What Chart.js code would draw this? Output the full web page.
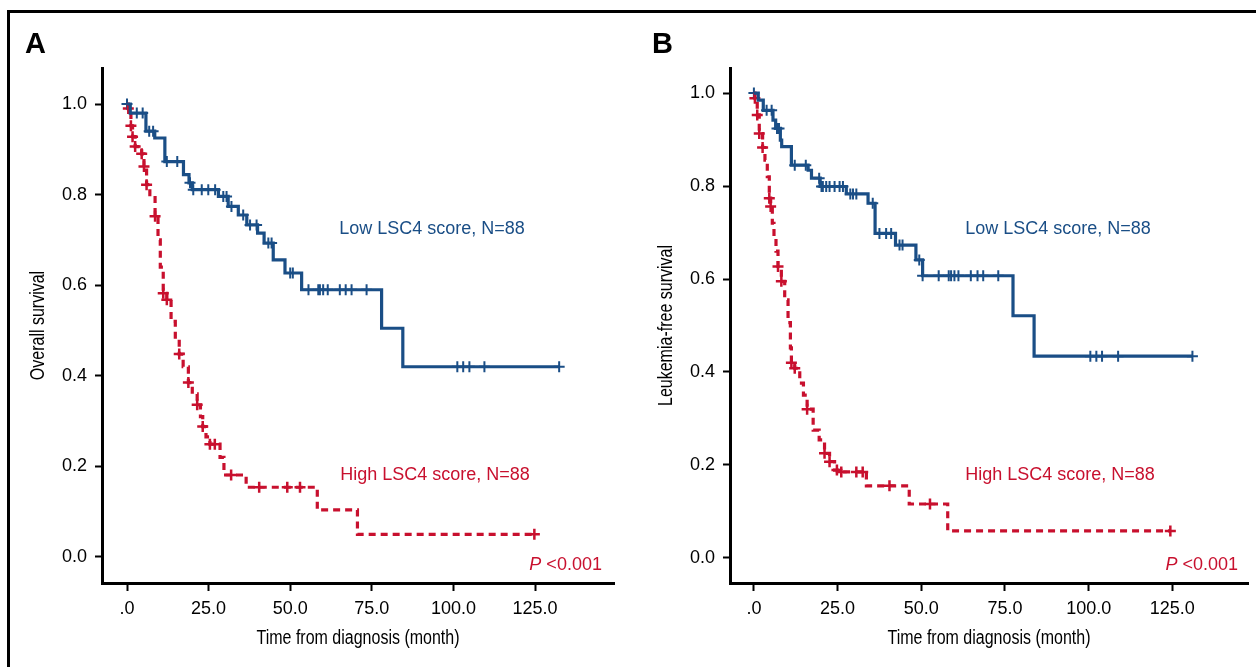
<!DOCTYPE html>
<html>
<head>
<meta charset="utf-8">
<script src="https://cdn.jsdelivr.net/npm/chart.js@4/dist/chart.umd.min.js"></script>
<style>
  body { margin: 0; background: #fff; width: 1256px; height: 667px; overflow: hidden; position: relative; }
  canvas { position: absolute; top: 0; }
  #chartA { left: 0; }
  #chartB { left: 628px; }
  #frame { position: absolute; left: 7px; top: 10px; width: 1300px; height: 700px;
           border-top: 3px solid #000; border-left: 3px solid #000; pointer-events: none; }
</style>
</head>
<body>
<canvas id="chartA" width="628" height="667"></canvas>
<canvas id="chartB" width="628" height="667"></canvas>
<div id="frame"></div>
<script>
// tick labels
const xTicks = [0, 25, 50, 75, 100, 125];
const yTicks = [0, 0.2, 0.4, 0.6, 0.8, 1.0];

// A: overall survival, low LSC4 score (event times in months, survival after event)
const osLowTimes = [0, 1, 5.8, 8.5, 11.6, 17.3, 19, 20, 28, 31, 34.1, 36.7, 40, 42, 44.8, 48.4, 53.5, 78, 84.5];
const osLowSurv = [1.0, 0.98, 0.94, 0.925, 0.873, 0.844, 0.826, 0.811, 0.796, 0.774, 0.755, 0.733, 0.715, 0.693, 0.656, 0.627, 0.59, 0.505, 0.42];
const osLowCensor = [0, 3, 4.8, 6.8, 8, 12.2, 15.4, 19.3, 20.3, 22.9, 24.9, 27, 29.5, 30.5, 32, 35.6, 37.7, 39.7,
  43.3, 44.3, 50, 50.8, 55.6, 58.6, 59.1, 60.1, 61.5, 65.2, 67, 68.8, 73.4, 101.2, 103, 104.9, 109.5, 132.4];

// A: overall survival, high LSC4 score
const osHighTimes = [0, 0.4, 1.2, 1.7, 2.5, 4.5, 5.2, 6, 7, 8.6, 9.5, 10.2, 11.1, 12.2, 13.5, 14.8, 16, 17.2,
  18.8, 20, 21.5, 22.5, 23.2, 24.2, 25.4, 28.5, 29.7, 36.5, 58.3, 70.6];
const osHighSurv = [1.0, 0.99, 0.952, 0.928, 0.906, 0.89, 0.862, 0.822, 0.8, 0.752, 0.7, 0.64, 0.582, 0.568, 0.52, 0.48, 0.448, 0.42,
  0.385, 0.36, 0.336, 0.31, 0.288, 0.265, 0.249, 0.22, 0.181, 0.154, 0.104, 0.05];
const osHighCensor = [0.4, 1.2, 1.7, 2.5, 4.5, 5.2, 6, 8.6, 11.1, 12.2, 16, 18.8, 21.5, 23.2, 25.4, 26.9, 31.9, 40.5, 49.1, 53, 124.8];

// B: leukemia-free survival, low LSC4 score
const lfsLowTimes = [0, 1.3, 2.8, 5.7, 6.5, 7.9, 8.3, 11.2, 16.2, 17.2, 19.8, 27.6, 34.1, 36.2, 42.3, 48.4, 50.4, 77.4, 83.7];
const lfsLowSurv = [1.0, 0.985, 0.963, 0.942, 0.924, 0.899, 0.885, 0.845, 0.834, 0.817, 0.799, 0.783, 0.763, 0.698, 0.673, 0.641, 0.607, 0.521, 0.434];
const lfsLowCensor = [0, 3.8, 5.3, 6.9, 7.5, 12.2, 15.5, 19.5, 20.2, 20.6, 21.6, 22.6, 24.1, 25.6, 26.6, 28.8, 29.6, 30.6,
  35.5, 37.5, 39.5, 41, 43.5, 44.4, 49.4, 50.4, 55.2, 58.2, 58.9, 59.9, 61.1, 64.8, 66.8, 68.5, 73, 100.5, 102.3, 104, 108.8, 131];

// B: leukemia-free survival, high LSC4 score
const lfsHighTimes = [0, 0.3, 1, 1.6, 2.6, 3.3, 4, 4.6, 5, 5.5, 6, 6.6, 7.2, 8.2, 9.2, 10.2, 10.9, 11.2, 12.2, 13.7,
  14.8, 15.9, 17.7, 19.5, 21.1, 22.6, 24.1, 25, 33.6, 46.4, 57.9];
const lfsHighSurv = [1.0, 0.989, 0.953, 0.913, 0.883, 0.856, 0.82, 0.774, 0.756, 0.72, 0.691, 0.66, 0.627, 0.595, 0.555, 0.506, 0.452, 0.42, 0.408, 0.376,
  0.35, 0.32, 0.275, 0.254, 0.225, 0.207, 0.189, 0.185, 0.155, 0.116, 0.058];
const lfsHighCensor = [0.3, 1, 1.6, 2.6, 4.6, 5, 7.2, 8.2, 11.2, 12.2, 15.9, 21.1, 22.6, 24.8, 26.1, 30.6, 32.5, 40.5, 52.6, 124.4];

const BLUE = '#1a4e86';
const RED = '#c8102e';
const FONT = "'Liberation Sans', Arial, sans-serif";

// value of the step curve at time t
const survAt = (times, surv, t) => {
  let v = surv[0];
  for (let i = 0; i < times.length; i++) if (times[i] <= t) v = surv[i];
  return v;
};

const curve = (times, surv, censor) => {
  const pts = times.map((t, i) => ({ x: t, y: surv[i] }));
  pts.push({ x: Math.max(...censor), y: surv[surv.length - 1] });
  return pts;
};

const marks = (times, surv, censor) => censor.map(t => ({ x: t, y: survAt(times, surv, t) }));

// condensed text: squeeze horizontally
const narrowText = (ctx, text, x, y, rot) => {
  ctx.save();
  ctx.translate(x, y);
  ctx.rotate(rot);
  ctx.scale(0.8, 1);
  ctx.fillText(text, 0, 0);
  ctx.restore();
};

const textPlugin = {
  id: 'texts',
  afterDraw(chart, args, opts) {
    const { ctx, chartArea, scales: { x, y } } = chart;
    ctx.save();
    ctx.fillStyle = '#000';
    ctx.font = 'bold 29px ' + FONT;
    ctx.textBaseline = 'alphabetic';
    ctx.fillText(opts.label, opts.labelX, 53);

    // axis titles
    ctx.textAlign = 'center';
    ctx.textBaseline = 'middle';
    ctx.font = '20px ' + FONT;
    narrowText(ctx, 'Time from diagnosis (month)', (chartArea.left + chartArea.right) / 2, 638, 0);
    narrowText(ctx, opts.yTitle, 38, (chartArea.top + chartArea.bottom) / 2, -Math.PI / 2);

    ctx.font = '18px ' + FONT;
    opts.notes.forEach(n => {
      ctx.fillStyle = n.color;
      ctx.textAlign = 'left';
      ctx.fillText(n.text, x.getPixelForValue(n.x), y.getPixelForValue(n.y));
    });
    // P value, italic P
    const px = x.getPixelForValue(opts.p.x), py = y.getPixelForValue(opts.p.y);
    ctx.fillStyle = RED;
    ctx.textAlign = 'right';
    const rest = ' <0.001';
    ctx.fillText(rest, px, py);
    const w = ctx.measureText(rest).width;
    ctx.font = 'italic 18px ' + FONT;
    ctx.fillText('P', px - w, py);
    ctx.restore();
  }
};

const makePanel = (id, cfg) => {
  const ctx = document.getElementById(id).getContext('2d');
  return new Chart(ctx, {
    type: 'line',
    data: {
      datasets: [
        { data: curve(cfg.low[0], cfg.low[1], cfg.low[2]), borderColor: BLUE, borderWidth: 3.2,
          stepped: 'before', pointRadius: 0, fill: false },
        { data: curve(cfg.high[0], cfg.high[1], cfg.high[2]), borderColor: RED, borderWidth: 3.2,
          borderDash: [7, 5], stepped: 'before', pointRadius: 0, fill: false },
        { data: marks(cfg.low[0], cfg.low[1], cfg.low[2]), showLine: false, pointStyle: 'cross',
          pointRadius: 5.5, pointBorderWidth: 2, borderColor: BLUE, backgroundColor: BLUE },
        { data: marks(cfg.high[0], cfg.high[1], cfg.high[2]), showLine: false, pointStyle: 'cross',
          pointRadius: 5.5, pointBorderWidth: 2.5, borderColor: RED, backgroundColor: RED }
      ]
    },
    options: {
      responsive: false,
      animation: false,
      devicePixelRatio: 1,
      layout: { padding: { left: 22, top: 68, right: cfg.right, bottom: 14 } },
      plugins: {
        legend: { display: false },
        tooltip: { enabled: false },
        texts: { label: cfg.label, labelX: cfg.labelX, notes: cfg.notes, p: cfg.p, yTitle: cfg.yTitle }
      },
      scales: {
        x: {
          type: 'linear', min: cfg.xMin, max: cfg.xMax,
          afterBuildTicks: s => { s.ticks = xTicks.map(v => ({ value: v })); },
          afterFit: s => { s.height = 70; },
          border: { color: '#000', width: 3 },
          grid: { drawOnChartArea: false, tickLength: 8, tickColor: '#000', tickWidth: 2 },
          ticks: { color: '#000', font: { family: FONT, size: 18 }, padding: 7, maxRotation: 0,
                   callback: v => v === 0 ? '.0' : v.toFixed(1) }
        },
        y: {
          type: 'linear', min: cfg.yMin, max: cfg.yMax,
          afterBuildTicks: s => { s.ticks = yTicks.map(v => ({ value: v })); },
          afterFit: s => { s.width = 80; },
          border: { color: '#000', width: 3 },
          grid: { drawOnChartArea: false, tickLength: 7, tickColor: '#000', tickWidth: 2 },
          ticks: { color: '#000', font: { family: FONT, size: 18 }, padding: 8,
                   callback: v => v.toFixed(1) }
        }
      }
    },
    plugins: [textPlugin]
  });
};

makePanel('chartA', {
  low: [osLowTimes, osLowSurv, osLowCensor],
  high: [osHighTimes, osHighSurv, osHighCensor],
  xMin: -7.66, xMax: 149.2, yMin: -0.0574, yMax: 1.0795, right: 14,
  yTitle: 'Overall survival', label: 'A', labelX: 25,
  notes: [
    { text: 'Low LSC4 score, N=88', x: 65, y: 0.724, color: BLUE },
    { text: 'High LSC4 score, N=88', x: 65.3, y: 0.181, color: RED }
  ],
  p: { x: 145.5, y: -0.018 }
});

makePanel('chartB', {
  low: [lfsLowTimes, lfsLowSurv, lfsLowCensor],
  high: [lfsHighTimes, lfsHighSurv, lfsHighCensor],
  xMin: -7.14, xMax: 147.6, yMin: -0.054, yMax: 1.054, right: 6,
  yTitle: 'Leukemia-free survival', label: 'B', labelX: 24,
  notes: [
    { text: 'Low LSC4 score, N=88', x: 63.1, y: 0.7075, color: BLUE },
    { text: 'High LSC4 score, N=88', x: 63.1, y: 0.178, color: RED }
  ],
  p: { x: 144.6, y: -0.015 }
});
</script>
</body>
</html>
